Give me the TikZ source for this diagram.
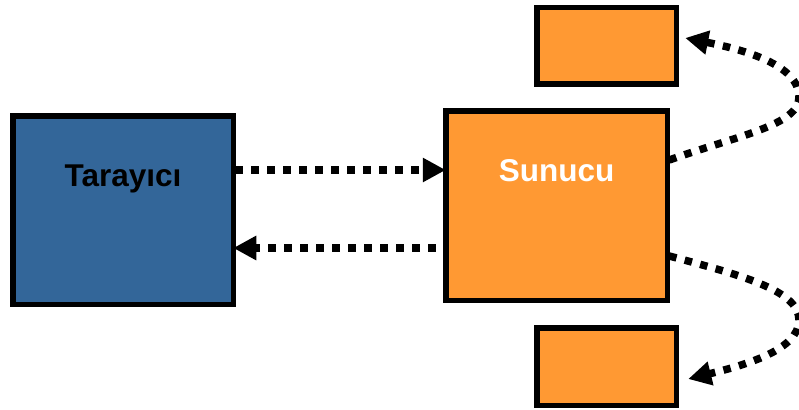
\documentclass[tikz,border=0pt]{standalone}
\usepackage{fontspec}
\setmainfont{Liberation Sans}
\usetikzlibrary{arrows.meta,calc}
\definecolor{boxblue}{HTML}{336699}
\definecolor{boxorange}{HTML}{FF9933}
\begin{document}
\begin{tikzpicture}[x=1pt,y=-1pt,
  box/.style={draw=black,line width=5.5pt,inner sep=0pt,outer sep=0pt},
  lbl/.style={font=\fontsize{31.5}{37}\selectfont\bfseries,anchor=base,inner sep=0pt},
  arr/.style={line width=7.5pt,dash pattern=on 7.5pt off 8.5pt,
    -{Triangle[length=23pt,width=23pt]}}]
\useasboundingbox[fill=white] (0,0) rectangle (799,409);
\node[box,fill=boxblue,minimum width=220.5pt,minimum height=188.5pt] (t) at (123,210) {};
\node[box,fill=boxorange,minimum width=221.5pt,minimum height=189.5pt] (s) at (556.5,205.5) {};
\node[box,fill=boxorange,minimum width=139.5pt,minimum height=76.5pt] (top) at (606.5,46) {};
\node[box,fill=boxorange,minimum width=139.5pt,minimum height=77.5pt] (bot) at (606.5,366.5) {};
\node[lbl,text=black] (tl) at ($(t.north)+(0,70.5)$) {Tarayıcı};
\node[lbl,text=white] (sl) at ($(s.north)+(0,70.5)$) {Sunucu};
\coordinate (c1) at (799,97);
\coordinate (c2) at (799,320);
\draw[arr] ([yshift=40pt,xshift=2pt]t.east) -- ([yshift=35.5pt]s.west);
\draw[arr] ([yshift=-42.5pt,xshift=-10pt]s.west) -- ([yshift=-38pt]t.east);
\draw[arr] ([yshift=45.5pt,xshift=2pt]s.east) .. controls (740,135) and (799,125) .. (c1)
  .. controls (799,65) and (745,50) .. ([xshift=9pt,yshift=8pt]top.east);
\draw[arr] ([yshift=-50.5pt,xshift=2pt]s.east) .. controls (740,275) and (799,290) .. (c2)
  .. controls (799,350) and (745,365) .. ([xshift=12pt,yshift=-12.5pt]bot.east);
\end{tikzpicture}
\end{document}
